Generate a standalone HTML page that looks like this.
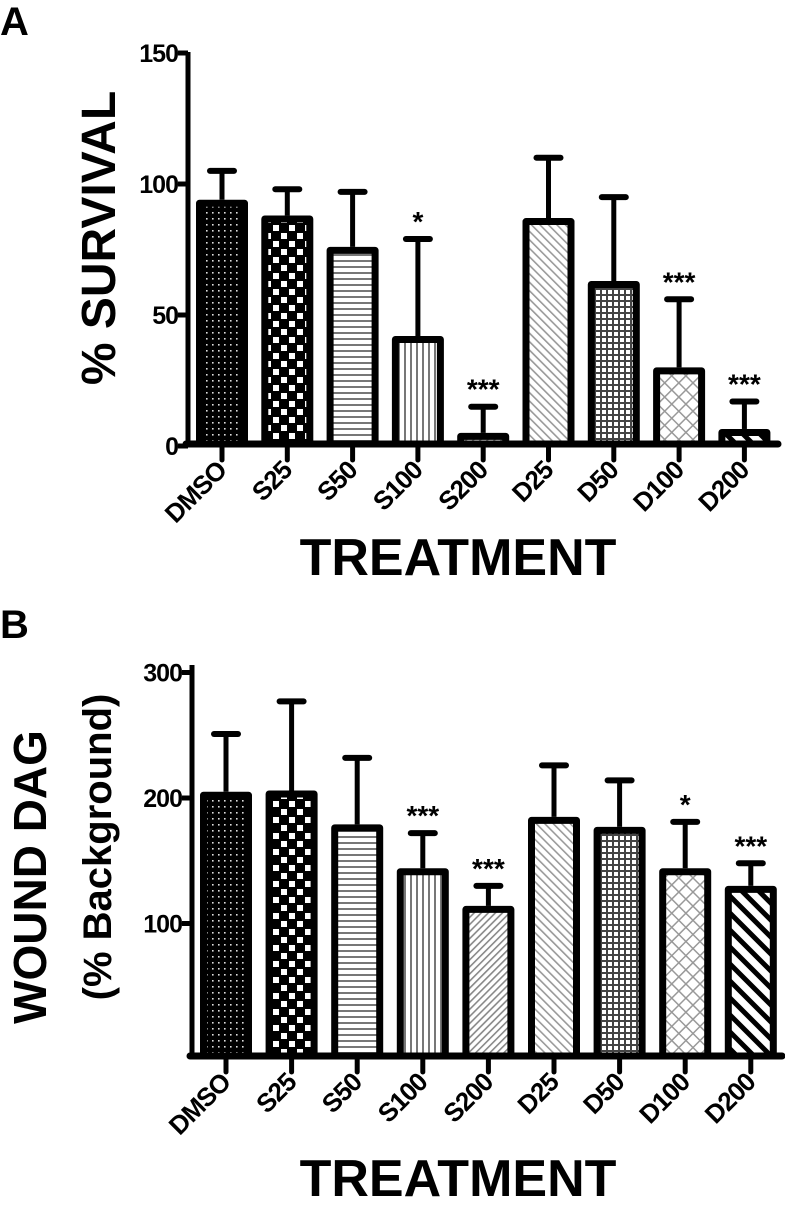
<!DOCTYPE html>
<html><head><meta charset="utf-8"><style>
html,body{margin:0;padding:0;background:#fff}
svg{display:block}
text{font-family:"Liberation Sans",Arial,sans-serif;font-weight:bold;fill:#000}
</style></head><body>
<svg id="fig" width="785" height="1207" viewBox="0 0 785 1207">
<defs>
<pattern id="p0" width="6" height="6" patternUnits="userSpaceOnUse"><rect width="6" height="6" fill="#000"/><rect x="2" y="2" width="1.6" height="1.6" fill="#ddd"/></pattern>
<pattern id="p1" width="16" height="16" patternUnits="userSpaceOnUse"><rect width="16" height="16" fill="#000"/><rect x="1" y="1" width="6" height="6" fill="#fff"/><rect x="9" y="9" width="6" height="6" fill="#fff"/></pattern>
<pattern id="p2" width="6" height="6" patternUnits="userSpaceOnUse"><rect width="6" height="6" fill="#fff"/><rect y="2" width="6" height="2" fill="#777"/></pattern>
<pattern id="p3" width="6" height="6" patternUnits="userSpaceOnUse"><rect width="6" height="6" fill="#fff"/><rect x="2" width="2" height="6" fill="#777"/></pattern>
<pattern id="p4" width="5" height="5" patternUnits="userSpaceOnUse" patternTransform="rotate(45)"><rect width="5" height="5" fill="#fff"/><rect width="1.6" height="5" fill="#888"/></pattern>
<pattern id="p5" width="6" height="6" patternUnits="userSpaceOnUse" patternTransform="rotate(-45)"><rect width="6" height="6" fill="#fff"/><rect width="1.6" height="6" fill="#999"/></pattern>
<pattern id="p6" width="6" height="6" patternUnits="userSpaceOnUse"><rect width="6" height="6" fill="#fff"/><rect width="6" height="2" fill="#444"/><rect width="2" height="6" fill="#444"/></pattern>
<pattern id="p7" width="10" height="10" patternUnits="userSpaceOnUse" patternTransform="rotate(45)"><rect width="10" height="10" fill="#fff"/><rect width="1.5" height="10" fill="#999"/><rect width="10" height="1.5" fill="#999"/></pattern>
<pattern id="p8" width="12" height="12" patternUnits="userSpaceOnUse" patternTransform="rotate(-45)"><rect width="12" height="12" fill="#fff"/><rect width="5" height="12" fill="#000"/></pattern>
</defs>
<text x="0" y="35" font-size="40">A</text>
<text x="0" y="638" font-size="40">B</text>
<g id="chartA"></g>
<g id="chartB"></g>
</svg>
<script>
const categories = ["DMSO","S25","S50","S100","S200","D25","D50","D100","D200"];
const survivalMeans = [94, 88, 76, 42, 5, 87, 63, 30, 6.5];
const survivalErrs = [105, 98, 97, 79, 15, 110, 95, 56, 17];
const survivalSig = ["", "", "", "*", "***", "", "", "***", "***"];
const survivalTicks = [0, 50, 100, 150];
const dagMeans = [205, 206, 179, 144, 114, 185, 177, 144, 130];
const dagErrs = [251, 277, 232, 172, 130, 226, 214, 181, 148];
const dagSig = ["", "", "", "***", "***", "", "", "*", "***"];
const dagTicks = [100, 200, 300];

const NS = "http://www.w3.org/2000/svg";
function mk(tag, attrs, parent){const e=document.createElementNS(NS,tag);for(const k in attrs)e.setAttribute(k,attrs[k]);parent.appendChild(e);return e;}

function drawChart(g, cfg){
  const y = v => cfg.y0 - (v - 0) * cfg.scale;
  const x = i => cfg.x0 + i * cfg.step;
  const ya = mk("line",{x1:cfg.axisX,y1:cfg.axisTop,x2:cfg.axisX,y2:cfg.base+3,stroke:"#000","stroke-width":5},g);
  
  
  cfg.ticks.forEach(t=>{
    const tl = mk("line",{x1:cfg.axisX-10,y1:y(t),x2:cfg.axisX,y2:y(t),stroke:"#000","stroke-width":5},g);
    
    
    const tt = mk("text",{x:cfg.axisX-10,y:y(t)+9,"font-size":25,"text-anchor":"end","letter-spacing":"-1"},g);
    tt.textContent = t;
    
    
  });
  categories.forEach((c,i)=>{
    const cx = x(i), top = y(cfg.means[i]), et = y(cfg.errs[i]);
    const el = mk("line",{x1:cx,y1:et,x2:cx,y2:top,stroke:"#000","stroke-width":5},g);
    
    
    const cap = mk("line",{x1:cx-12,y1:et,x2:cx+12,y2:et,stroke:"#000","stroke-width":6,"stroke-linecap":"round"},g);
    
    
    const r = mk("rect",{x:cx-cfg.bw/2+3.5,y:top+3.5,width:cfg.bw-7,height:Math.max(cfg.base-top-3.5,1),fill:"url(#p"+i+")",stroke:"#000","stroke-width":7,"stroke-linejoin":"round"},g);
    
    
    const tk = mk("line",{x1:cx,y1:cfg.base,x2:cx,y2:cfg.base+16,stroke:"#000","stroke-width":5,"stroke-linecap":"round"},g);
    
    
    const lb = mk("text",{x:0,y:0,"font-size":26,"text-anchor":"end","letter-spacing":"-1",transform:"translate("+(cx+6)+","+(cfg.base+28)+") rotate(-45)"},g);
    lb.textContent = c;
    
    
    if(cfg.sig[i]){
      const s = mk("text",{x:cx,y:et-8,"font-size":28,"text-anchor":"middle"},g);
      s.textContent = cfg.sig[i];
      
      
    }
  });
  const xa = mk("line",{x1:cfg.axisX-2,y1:cfg.base,x2:cfg.axisEnd,y2:cfg.base,stroke:"#000","stroke-width":7,"stroke-linecap":"round"},g);
  
  
}

drawChart(document.getElementById("chartA"),{means:survivalMeans,errs:survivalErrs,sig:survivalSig,ticks:survivalTicks,
  y0:446,scale:2.62,x0:222,step:65.3,bw:52,axisX:188,axisTop:52,base:444,axisEnd:778});
drawChart(document.getElementById("chartB"),{means:dagMeans,errs:dagErrs,sig:dagSig,ticks:dagTicks,
  y0:1049,scale:1.255,x0:226,step:65.6,bw:52,axisX:192,axisTop:665,base:1056,axisEnd:782});
</script>
<svg style="position:absolute;left:0;top:0" width="785" height="1207">
<text transform="translate(115,238) rotate(-90)" font-size="48" text-anchor="middle">% SURVIVAL</text>
<text x="458" y="575" font-size="52" text-anchor="middle">TREATMENT</text>
<text transform="translate(46,877) rotate(-90)" font-size="46" text-anchor="middle">WOUND DAG</text>
<text transform="translate(111,847) rotate(-90)" font-size="40" text-anchor="middle">(% Background)</text>
<text x="458" y="1196" font-size="52" text-anchor="middle">TREATMENT</text>
</svg>
</body></html>
